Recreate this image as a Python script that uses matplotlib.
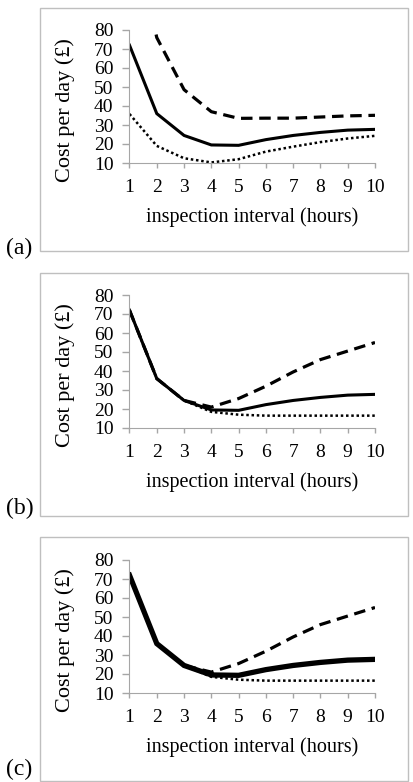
import numpy as np
import matplotlib.pyplot as plt
from matplotlib.patches import Rectangle

# inspection interval (hours)
hours = [1, 2, 3, 4, 5, 6, 7, 8, 9, 10]

# (a)
a_solid = [72, 36, 24.5, 19.5, 19.3, 22.3, 24.5, 26.1, 27.3, 27.7]
a_dashed = [140, 76, 48.6, 37, 33.5, 33.6, 33.6, 34.2, 34.8, 35.1]
a_dotted = [35.8, 19, 12.5, 10.3, 12, 16, 18.6, 21, 22.9, 24.3]

# (b)
b_solid = [72, 36, 24.5, 19.5, 19.3, 22.3, 24.5, 26.1, 27.3, 27.7]
b_dashed = [72, 36, 24.5, 21, 25.5, 32, 39.5, 46, 50.5, 55]
b_dotted = [72, 36, 24.5, 18.5, 17, 16.5, 16.5, 16.5, 16.5, 16.5]

# (c)
c_solid = [72, 36, 24.5, 19.5, 19.3, 22.3, 24.5, 26.1, 27.3, 27.7]
c_dashed = [72, 36, 24.5, 21, 25.5, 32, 39.5, 46, 50.5, 55]
c_dotted = [72, 36, 24.5, 18.5, 17, 16.5, 16.5, 16.5, 16.5, 16.5]

yticks = [10, 20, 30, 40, 50, 60, 70, 80]
panel_labels = ["(a)", "(b)", "(c)"]

plt.rcParams['font.family'] = ['Liberation Serif', 'DejaVu Serif']

W, H = 414, 782
fig = plt.figure(figsize=(W / 100, H / 100), dpi=100)

grey = '#A6A6A6'
panels = [
    (a_solid, a_dashed, a_dotted, 2.2),
    (b_solid, b_dashed, b_dotted, 2.2),
    (c_solid, c_dashed, c_dotted, 3.8),
]
# pixel positions: axes top (80) and bottom (10), panel box top/bottom
ax_top = [30, 295, 560]
ax_bot = [163, 428, 693]
box_top = [8, 273, 537]
box_bot = [251, 516, 781]
label_y = [248, 508, 769]

for i, (sol, dash, dot, slw) in enumerate(panels):
    # frame around each panel
    fig.patches.append(Rectangle((40 / W, 1 - box_bot[i] / H), 368 / W,
                                 (box_bot[i] - box_top[i]) / H,
                                 transform=fig.transFigure, fill=False,
                                 edgecolor='#BFBFBF', linewidth=1))
    ax = fig.add_axes([129.5 / W, 1 - ax_bot[i] / H, 245.5 / W,
                       (ax_bot[i] - ax_top[i]) / H])
    ax.plot(hours, dot, color='black', linewidth=1.8, linestyle=(0, (1, 1.1)))
    ax.plot(hours, sol, color='black', linewidth=slw, solid_joinstyle='miter')
    ax.plot(hours, dash, color='black', linewidth=2.3, linestyle=(0, (3.6, 2.1)))
    ax.set_xlim(1, 10)
    ax.set_ylim(10, 80)
    ax.set_xticks(hours)
    ax.set_yticks(yticks)
    ax.spines['top'].set_visible(False)
    ax.spines['right'].set_visible(False)
    ax.spines['left'].set_color(grey)
    ax.spines['bottom'].set_color(grey)
    ax.tick_params(axis='both', colors=grey, labelcolor='black',
                   labelsize=14, width=1)
    ax.tick_params(axis='y', length=5, pad=6.5)
    ax.tick_params(axis='x', length=3.6, pad=8)
    ax.set_xlabel("inspection interval (hours)", fontsize=14.5)
    ax.set_ylabel("Cost per day (£)", fontsize=16)
    ax.xaxis.set_label_coords(0.5, -0.335)
    ax.yaxis.set_label_coords(-0.22, 0.40)
    fig.text(6 / W, 1 - label_y[i] / H, panel_labels[i], fontsize=17,
             va='center', ha='left')

fig.savefig("out.png", dpi=100)
